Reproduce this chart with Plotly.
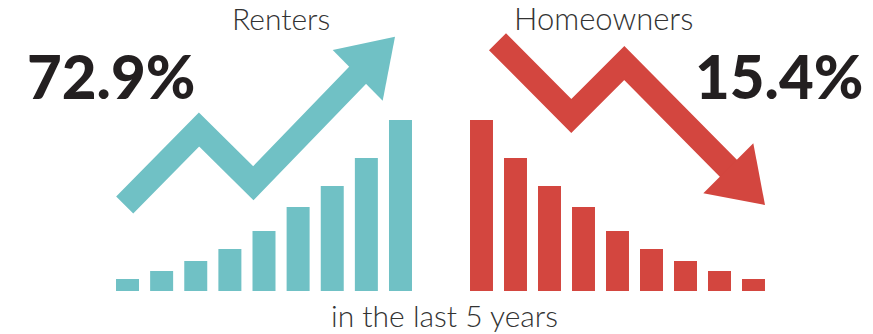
import plotly.graph_objects as go

# ---- data ----
periods = ["1", "2", "3", "4", "5", "6", "7", "8", "9"]
renters = [12, 20, 30, 42, 60, 84, 105, 133, 171]
homeowners = [171, 133, 105, 84, 60, 42, 30, 20, 12]
renters_label = "Renters"
owners_label = "Homeowners"
renters_change = "72.9%"
owners_change = "15.4%"
footer = "in the last 5 years"

# ---- style ----
W, H = 873, 334
TEAL = "#70C1C5"
RED = "#D3463F"
INK = "#231F20"
GREY = "#333333"


def px(x, y):
    return x / W, 1 - y / H


def path(points, close=False):
    parts = []
    for i, (x, y) in enumerate(points):
        fx, fy = px(x, y)
        parts.append(("M" if i == 0 else "L") + f"{fx:.5f},{fy:.5f}")
    return " ".join(parts) + (" Z" if close else "")


fig = go.Figure()
fig.add_bar(x=periods, y=renters, marker_color=TEAL, marker_line_width=0,
            width=0.674, xaxis="x", yaxis="y", hoverinfo="skip")
fig.add_bar(x=periods, y=homeowners, marker_color=RED, marker_line_width=0,
            width=0.676, xaxis="x2", yaxis="y2", hoverinfo="skip")

ybot = 43 / H
axis_common = dict(visible=False, fixedrange=True)
fig.update_layout(
    width=W, height=H,
    margin=dict(l=0, r=0, t=0, b=0),
    paper_bgcolor="white", plot_bgcolor="rgba(0,0,0,0)",
    showlegend=False,
    xaxis=dict(domain=[110.45 / W, 417.55 / W], **axis_common),
    xaxis2=dict(domain=[464.5 / W, 770.5 / W], anchor="y2", **axis_common),
    yaxis=dict(domain=[ybot, 1], range=[0, 291], **axis_common),
    yaxis2=dict(domain=[ybot, 1], range=[0, 291], anchor="x2", **axis_common),
)

shapes = []
# teal rising arrow
shapes.append(dict(type="path", xref="paper", yref="paper",
                   path=path([(124.7, 205), (199, 129.5), (253.3, 183.3), (366, 66.7)]),
                   line=dict(color=TEAL, width=24), fillcolor="rgba(0,0,0,0)"))
shapes.append(dict(type="path", xref="paper", yref="paper",
                   path=path([(332.7, 50), (395, 36.7), (382.7, 100.7)], close=True),
                   line=dict(width=0), fillcolor=TEAL))
# red falling arrow
shapes.append(dict(type="path", xref="paper", yref="paper",
                   path=path([(497.5, 41.7), (571.3, 116), (624.3, 63), (737, 177)]),
                   line=dict(color=RED, width=24), fillcolor="rgba(0,0,0,0)"))
shapes.append(dict(type="path", xref="paper", yref="paper",
                   path=path([(753.3, 143.3), (765, 205), (703.3, 193.3)], close=True),
                   line=dict(width=0), fillcolor=RED))
fig.update_layout(shapes=shapes)


def ann(text, x, y, xanchor, size, color, weight):
    fx, fy = px(x, y)
    fig.add_annotation(text=text, x=fx, y=fy, xref="paper", yref="paper",
                       xanchor=xanchor, yanchor="middle", showarrow=False,
                       font=dict(family="Lato", size=size, color=color, weight=weight))


ann(renters_change, 25, 76, "left", 60, INK, 900)
ann(owners_change, 865, 76, "right", 60, INK, 900)
ann(renters_label, 280.7, 18, "center", 30, GREY, 300)
ann(owners_label, 603.8, 18, "center", 31, GREY, 300)
ann(footer, 445, 315, "center", 30, GREY, 300)

fig.write_html("out.html", config={"displayModeBar": False, "staticPlot": True})
